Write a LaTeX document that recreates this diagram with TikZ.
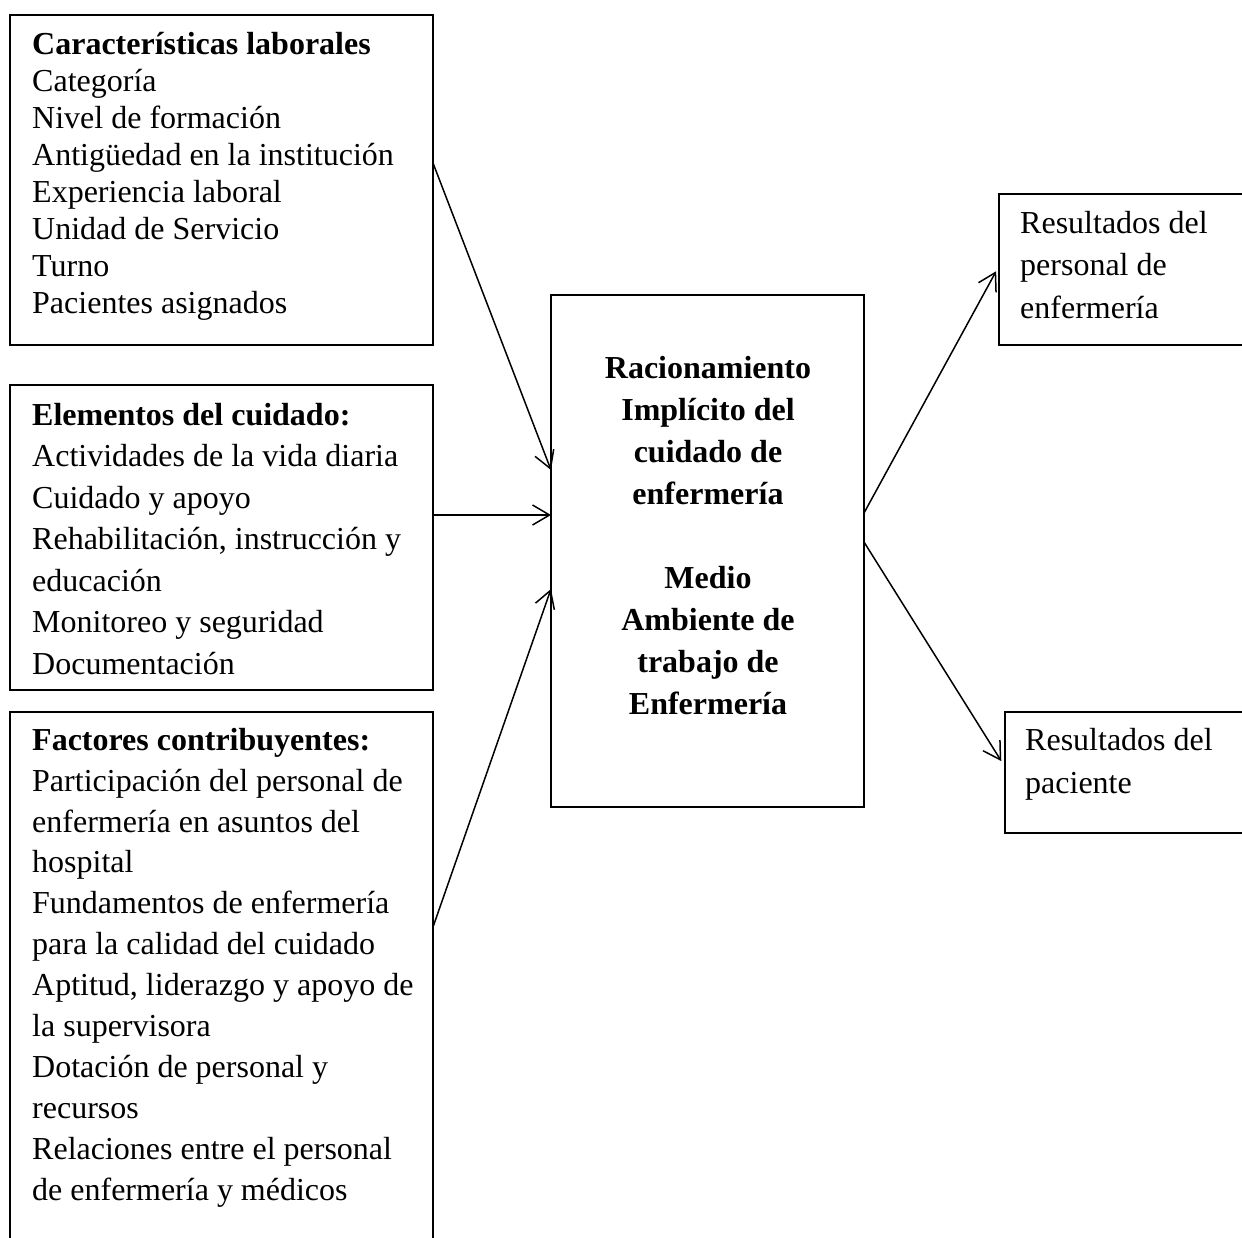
\documentclass[tikz,border=0pt]{standalone}
\usepackage{fontspec}
\setmainfont{Liberation Serif}
\usetikzlibrary{arrows.meta}
\begin{document}
\begin{tikzpicture}[x=1pt,y=-1pt,
  boxstyle/.style={draw, line width=1.5pt, inner sep=0pt, outer sep=0pt},
  txt/.style={anchor=north west, inner sep=0pt, align=left},
  ctxt/.style={anchor=north, inner sep=0pt, align=center, font=\bfseries\fontsize{32}{42}\selectfont},
  arr/.style={line width=1.5pt, -{Straight Barb[length=17pt,width=20pt]}}]
\useasboundingbox (0,0) rectangle (1242,1237);
% boxes
\node[boxstyle, minimum width=423pt, minimum height=330pt] (b1) at (221.5,180) {};
\node[boxstyle, minimum width=423pt, minimum height=305pt] (b2) at (221.5,537.5) {};
\node[boxstyle, minimum width=423pt, minimum height=538pt] (b3) at (221.5,981) {};
\node[boxstyle, minimum width=313pt, minimum height=512pt] (c) at (707.5,551) {};
\node[boxstyle, minimum width=251pt, minimum height=151pt] (r1) at (1124.5,269.5) {};
\node[boxstyle, minimum width=245pt, minimum height=121pt] (r2) at (1127.5,772.5) {};
% texts
\node[txt, font=\fontsize{32}{37}\selectfont] (t1) at (32,20) {\rule{0pt}{34pt}\textbf{Características laborales}\\
Categoría\\ Nivel de formación\\ Antigüedad en la institución\\ Experiencia laboral\\
Unidad de Servicio\\ Turno\\ Pacientes asignados};
\node[txt, font=\fontsize{32}{41.5}\selectfont] (t2) at (32,391) {\rule{0pt}{34pt}\textbf{Elementos del cuidado:}\\
Actividades de la vida diaria\\ Cuidado y apoyo\\ Rehabilitación, instrucción y\\ educación\\
Monitoreo y seguridad\\ Documentación};
\node[txt, font=\fontsize{32}{40.9}\selectfont] (t3) at (32,716) {\rule{0pt}{34pt}\textbf{Factores contribuyentes:}\\
Participación del personal de\\ enfermería en asuntos del\\ hospital\\
Fundamentos de enfermería\\ para la calidad del cuidado\\
Aptitud, liderazgo y apoyo de\\ la supervisora\\
Dotación de personal y\\ recursos\\
Relaciones entre el personal\\ de enfermería y médicos};
\node[ctxt] (tc) at (708,344) {\rule{0pt}{34pt}Racionamiento\\ Implícito del\\ cuidado de\\ enfermería\\[42pt]
Medio\\ Ambiente de\\ trabajo de\\ Enfermería};
\node[txt, font=\fontsize{32}{42.5}\selectfont] (tr1) at (1020,199) {\rule{0pt}{34pt}Resultados del\\ personal de\\ enfermería};
\node[txt, font=\fontsize{32}{43}\selectfont] (tr2) at (1025,716) {\rule{0pt}{34pt}Resultados del\\ paciente};
% connectors
\draw[arr] ([yshift=17pt]b1.east) -- ([yshift=81pt]c.west);
\draw[arr] ([yshift=22.5pt]b2.east) -- ([yshift=36pt]c.west);
\draw[arr] ([yshift=54pt]b3.east) -- ([yshift=-38pt]c.west);
\draw[arr, shorten >=6pt] ([yshift=38pt]c.east) -- ([yshift=3.5pt]r1.west);
\draw[arr, shorten >=7pt] ([yshift=9pt]c.east) -- ([yshift=5.5pt]r2.west);
\end{tikzpicture}
\end{document}
